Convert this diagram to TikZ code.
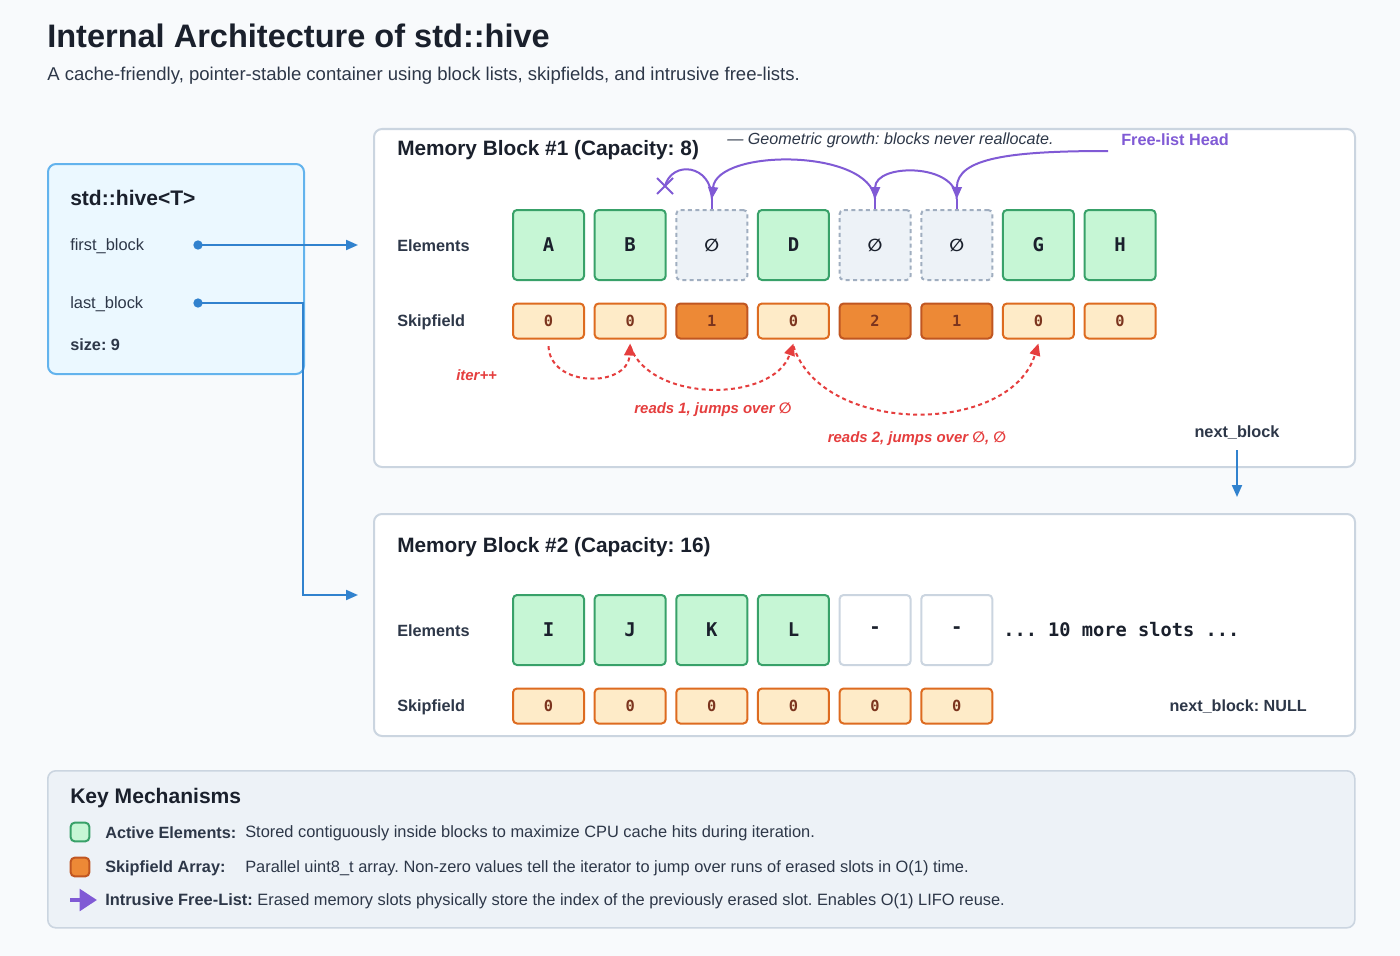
\documentclass[tikz,border=0pt]{standalone}
\usepackage{fontspec}
\setmainfont{Liberation Sans}
\setmonofont{DejaVu Sans Mono}
\newfontfamily\symfont{DejaVu Sans}
\usetikzlibrary{arrows.meta}
\frenchspacing
\definecolor{bgc}{HTML}{F8FAFC}
\definecolor{titlec}{HTML}{1A202C}
\definecolor{txt}{HTML}{2D3748}
\definecolor{greenf}{HTML}{C6F6D5}
\definecolor{greend}{HTML}{38A169}
\definecolor{erf}{HTML}{EDF2F7}
\definecolor{erd}{HTML}{A0AEC0}
\definecolor{skf}{HTML}{FEEBC8}
\definecolor{skd}{HTML}{DD6B20}
\definecolor{skhf}{HTML}{ED8936}
\definecolor{skhd}{HTML}{C05621}
\definecolor{sktxt}{HTML}{7B341E}
\definecolor{redc}{HTML}{E53E3E}
\definecolor{purp}{HTML}{805AD5}
\definecolor{bluec}{HTML}{3182CE}
\definecolor{hivef}{HTML}{EBF8FF}
\definecolor{hived}{HTML}{63B3ED}
\definecolor{blockd}{HTML}{CBD5E0}
\definecolor{legf}{HTML}{EDF2F7}
\tikzset{
  lbl/.style={anchor=west,inner sep=0,text=txt,font=\fontsize{12.3}{14}\selectfont},
  lblb/.style={lbl,font=\fontsize{12.2}{14}\selectfont\bfseries},
  cellbase/.style={rectangle,rounded corners=3pt,line width=1.5pt,minimum width=53.25pt,minimum height=52.5pt,inner sep=0,font=\fontsize{14.2}{16}\selectfont\ttfamily\bfseries,text=titlec},
  act/.style={cellbase,draw=greend,fill=greenf},
  erased/.style={cellbase,draw=erd,fill=erf,dash pattern=on 3pt off 2.5pt,font=\fontsize{13}{14}\selectfont\symfont\bfseries},
  empty/.style={cellbase,draw=blockd,fill=white},
  skbase/.style={rectangle,rounded corners=3pt,line width=1.5pt,minimum width=53.25pt,minimum height=26.25pt,inner sep=0,font=\fontsize{11.5}{13}\selectfont\ttfamily\bfseries,text=sktxt},
  sk/.style={skbase,draw=skd,fill=skf},
  skh/.style={skbase,draw=skhd,fill=skhf},
  blockbox/.style={rectangle,draw=blockd,fill=white,line width=1.5pt,rounded corners=6pt,anchor=north west,inner sep=0},
  redarr/.style={draw=redc,line width=1.5pt,dash pattern=on 3pt off 2.5pt,-{Triangle[length=9pt,width=8pt]}},
  redlbl/.style={inner sep=0,text=redc,font=\fontsize{11.2}{13}\selectfont\bfseries\itshape},
  purparr/.style={draw=purp,line width=1.5pt,-{Triangle[length=9pt,width=7.5pt]}},
  bluearr/.style={draw=bluec,line width=1.5pt,-{Triangle[length=9pt,width=7.5pt]}},
  dot/.style={circle,fill=bluec,inner sep=0,minimum size=7pt},
}
\begin{document}
\begin{tikzpicture}[x=0.75pt,y=-0.75pt]
\useasboundingbox (0,0) rectangle (1400,956);
\fill[bgc] (0,0) rectangle (1400,956);
% title
\node[anchor=west,inner sep=0,text=titlec,font=\fontsize{24.4}{28}\selectfont\bfseries] (title) at (47,36) {Internal Architecture of std::hive};
\node[anchor=west,inner sep=0,text=txt,font=\fontsize{13.9}{16}\selectfont] (subtitle) at (47,76) {A cache-friendly, pointer-stable container using block lists, skipfields, and intrusive free-lists.};
% hive box
\node[rectangle,draw=hived,fill=hivef,line width=1.5pt,rounded corners=6pt,anchor=north west,minimum width=192pt,minimum height=157.5pt,inner sep=0] (hive) at (47,163) {};
\node[anchor=west,inner sep=0,text=titlec,font=\fontsize{15.8}{18}\selectfont\bfseries] (hivetitle) at (70,198) {std::hive<T>};
\node[lbl] (fb) at (70,246) {first\_block};
\node[lbl] (lb) at (70,304) {last\_block};
\node[lblb] (size) at (70,345) {size: 9};
\node[dot] (fbdot) at (198,245) {};
\node[dot] (lbdot) at (198,303) {};
\coordinate (fbtgt) at (358,245);
\coordinate (lbtgt) at (358,595);
\coordinate (lbcorner) at (303,303);
% blocks
\node[blockbox,minimum width=735.75pt,minimum height=253.5pt] (blk1) at (373,128) {};
\node[blockbox,minimum width=735.75pt,minimum height=166.5pt] (blk2) at (373,513) {};
\draw[bluearr] (fbdot.center) -- (fbtgt);
\draw[bluearr] (lbdot.center) -- (lbcorner) |- (lbtgt);
% block 1
\node[anchor=west,inner sep=0,text=titlec,font=\fontsize{15.6}{18}\selectfont\bfseries] (b1title) at (397,150) {Memory Block \#1 (Capacity: 8)};
\node[anchor=west,inner sep=0,text=txt,font=\fontsize{12.1}{14}\selectfont\itshape] (geo) at (727,140) {— Geometric growth: blocks never reallocate.};
\node[anchor=west,inner sep=0,text=purp,font=\fontsize{12.2}{14}\selectfont\bfseries] (flh) at (1121,140) {Free-list Head};
\node[lblb] (el1) at (397,246) {Elements};
\node[lblb] (sl1) at (397,322) {Skipfield};
\foreach \i/\st/\t in {0/act/A,1/act/B,2/erased/∅,3/act/D,4/erased/∅,5/erased/∅,6/act/G,7/act/H}
  \node[\st] (e1-\i) at ({548.5+81.65*\i},245) {\t};
\foreach \i/\st/\t in {0/sk/0,1/sk/0,2/skh/1,3/sk/0,4/skh/2,5/skh/1,6/sk/0,7/sk/0}
  \node[\st] (s1-\i) at ({548.5+81.65*\i},321) {\t};
% free list arrows
\coordinate (flstart) at (1108,151);
\coordinate (t5) at ([yshift=7.5pt]e1-5.north);
\coordinate (t4) at ([yshift=7.5pt]e1-4.north);
\coordinate (t2) at ([yshift=7.5pt]e1-2.north);
\coordinate (xm) at (665,186);
\draw[purparr] (flstart) .. controls (1010,151) and (957,158) .. (t5);
\draw[purparr] (t5) .. controls ([yshift=27pt]t5) and ([yshift=27pt]t4) .. (t4);
\draw[purparr] (t4) .. controls ([shift={(-4pt,38pt)}]t4) and ([shift={(4pt,38pt)}]t2) .. (t2);
\draw[draw=purp,line width=1.5pt] (t2) .. controls ([yshift=26pt]t2) and (672,160) .. (xm);
\draw[draw=purp,line width=1.5pt] (t5) -- (e1-5.north) (t4) -- (e1-4.north) (t2) -- (e1-2.north);
\draw[draw=purp,line width=1.5pt] ([shift={(-6pt,-6pt)}]xm) -- ([shift={(6pt,6pt)}]xm) ([shift={(-6pt,6pt)}]xm) -- ([shift={(6pt,-6pt)}]xm);
% iterator arcs
\draw[redarr] ([yshift=-5pt]s1-0.south) .. controls (550,388) and (628,388) .. ([yshift=-3pt]s1-1.south);
\draw[redarr] ([yshift=-5pt]s1-1.south) .. controls (650,403) and (773,403) .. ([yshift=-3pt]s1-3.south);
\draw[redarr] ([yshift=-5pt]s1-3.south) .. controls (822,436) and (1010,436) .. ([yshift=-3pt]s1-6.south);
\node[redlbl,anchor=west] (iter) at (456,375) {iter++};
\node[redlbl] (r1) at (713,410) {reads 1, jumps over {\symfont ∅}};
\node[redlbl] (r2) at (917,439) {reads 2, jumps over {\symfont ∅}, {\symfont ∅}};
% next block
\node[inner sep=0,text=txt,font=\fontsize{12.2}{14}\selectfont\bfseries] (nb) at (1237,433) {next\_block};
\coordinate (nbs) at (1237,450);
\coordinate (nbt) at (1237,497);
\draw[bluearr] (nbs) -- (nbt);
% block 2
\node[anchor=west,inner sep=0,text=titlec,font=\fontsize{15.6}{18}\selectfont\bfseries] (b2title) at (397,547) {Memory Block \#2 (Capacity: 16)};
\node[lblb] (el2) at (397,631) {Elements};
\node[lblb] (sl2) at (397,707) {Skipfield};
\foreach \i/\st/\t in {0/act/I,1/act/J,2/act/K,3/act/L,4/empty/-,5/empty/-}
  \node[\st] (e2-\i) at ({548.5+81.65*\i},630) {\t};
\foreach \i in {0,...,5}
  \node[sk] (s2-\i) at ({548.5+81.65*\i},706) {0};
\node[anchor=west,inner sep=0,text=titlec,font=\fontsize{14}{16}\selectfont\ttfamily\bfseries] (more) at (1003,630) {... 10 more slots ...};
\node[anchor=east,inner sep=0,text=txt,font=\fontsize{12.1}{14}\selectfont\bfseries] (nbnull) at (1307,707) {next\_block: NULL};
% legend
\node[rectangle,draw=blockd,fill=legf,line width=1.2pt,rounded corners=6pt,anchor=north west,minimum width=980.25pt,minimum height=117.75pt,inner sep=0] (legend) at (47,770) {};
\node[anchor=west,inner sep=0,text=titlec,font=\fontsize{15.8}{18}\selectfont\bfseries] (keym) at (70,798) {Key Mechanisms};
\node[rectangle,draw=greend,fill=greenf,line width=1.5pt,rounded corners=3pt,minimum size=14pt,inner sep=0] (lg1) at (80,832) {};
\node[rectangle,draw=skhd,fill=skhf,line width=1.5pt,rounded corners=3pt,minimum size=14pt,inner sep=0] (lg2) at (80,867) {};
\coordinate (la1) at (70,900);
\coordinate (la2) at (97,900);
\draw[draw=purp,line width=3.2pt,-{Triangle[length=13pt,width=16pt]}] (la1) -- (la2);
\node[lblb] (k1) at (105,833) {Active Elements:};
\node[lbl] (d1) at (245,833) {Stored contiguously inside blocks to maximize CPU cache hits during iteration.};
\node[lblb] (k2) at (105,868) {Skipfield Array:};
\node[lbl] (d2) at (245,868) {Parallel uint8\_t array. Non-zero values tell the iterator to jump over runs of erased slots in O(1) time.};
\node[lbl] (k3) at (105,901) {\bfseries Intrusive Free-List:\mdseries{} Erased memory slots physically store the index of the previously erased slot. Enables O(1) LIFO reuse.};
\end{tikzpicture}
\end{document}
